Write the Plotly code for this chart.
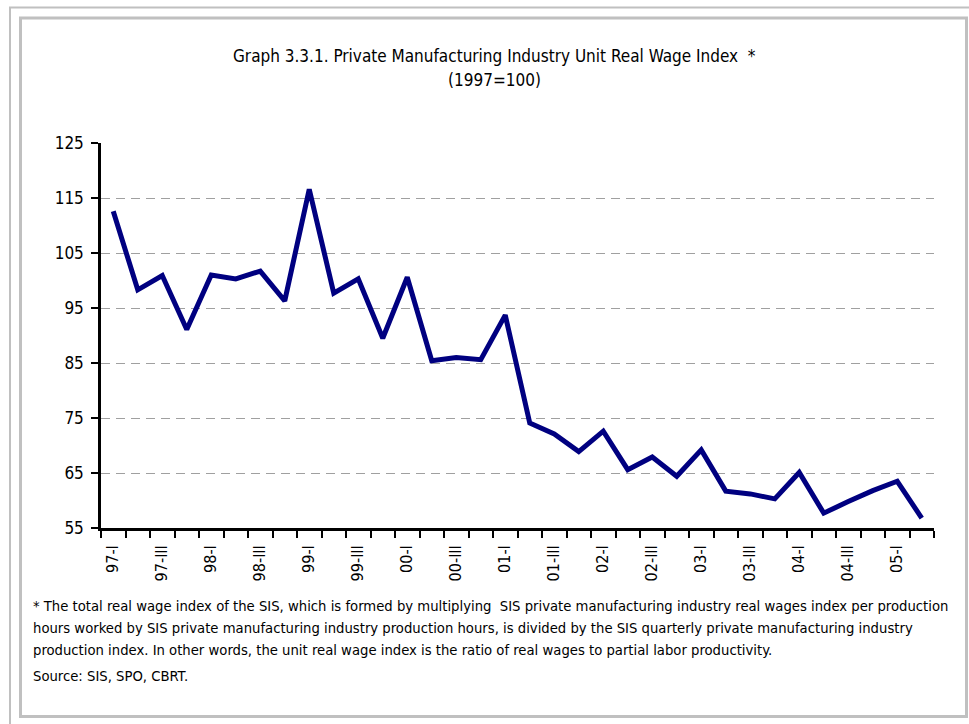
import plotly.graph_objects as go

# Quarterly observations, 1997-I to 2005-II
quarters = [
    "97-I", "97-II", "97-III", "97-IV",
    "98-I", "98-II", "98-III", "98-IV",
    "99-I", "99-II", "99-III", "99-IV",
    "00-I", "00-II", "00-III", "00-IV",
    "01-I", "01-II", "01-III", "01-IV",
    "02-I", "02-II", "02-III", "02-IV",
    "03-I", "03-II", "03-III", "03-IV",
    "04-I", "04-II", "04-III", "04-IV",
    "05-I", "05-II",
]
unit_real_wage = [
    112.6, 98.3, 100.9, 91.1,
    101.0, 100.3, 101.7, 96.3,
    116.6, 97.7, 100.3, 89.5,
    100.6, 85.4, 86.0, 85.6,
    93.7, 74.1, 72.1, 68.9,
    72.6, 65.6, 67.9, 64.4,
    69.2, 61.7, 61.2, 60.3,
    65.1, 57.7, 59.8, 61.8,
    63.5, 56.8,
]
y_ticks = [55, 65, 75, 85, 95, 105, 115, 125]

title_line1 = "Graph 3.3.1. Private Manufacturing Industry Unit Real Wage Index  *"
title_line2 = "(1997=100)"
footnote_lines = [
    "* The total real wage index of the SIS, which is formed by multiplying  SIS private manufacturing industry real wages index per production",
    "hours worked by SIS private manufacturing industry production hours, is divided by the SIS quarterly private manufacturing industry",
    "production index. In other words, the unit real wage index is the ratio of real wages to partial labor productivity.",
]
source_text = "Source: SIS, SPO, CBRT."

FONT = "Liberation Sans Narrow, Arial Narrow, DejaVu Sans Condensed, sans-serif"
W, H = 969, 724
L, R, T, B = 101, 35, 143, 196
PW, PH = W - L - R, H - T - B


def px(x):
    return (x - L) / PW


def py(y):
    return (H - B - y) / PH


idx = list(range(len(quarters)))
label_idx = idx[::2]

fig = go.Figure()
fig.add_trace(go.Scatter(
    x=idx, y=unit_real_wage, mode="lines",
    line=dict(color="#000080", width=5),
    hoverinfo="skip", showlegend=False,
))

fig.update_layout(
    width=W, height=H,
    margin=dict(l=L, r=R, t=T, b=B, pad=0),
    paper_bgcolor="white", plot_bgcolor="white",
    font=dict(family=FONT, color="black", size=16),
    xaxis=dict(
        range=[-0.5, len(quarters) - 0.5],
        tickmode="array",
        tickvals=label_idx,
        ticktext=[quarters[i] for i in label_idx],
        tickangle=-90,
        ticks="", showgrid=False, zeroline=False,
        showline=True, linecolor="black", linewidth=2.5,
        tickfont=dict(size=16),
        ticklabelstandoff=8,
        minor=dict(tickmode="linear", tick0=-0.5, dtick=1,
                   ticks="outside", ticklen=7, tickwidth=2,
                   tickcolor="black", showgrid=False),
    ),
    yaxis=dict(
        range=[55, 125],
        tickmode="array", tickvals=y_ticks,
        ticks="outside", ticklen=7, tickwidth=2, tickcolor="black",
        showline=True, linecolor="black", linewidth=2.5,
        showgrid=True, gridcolor="#a0a0a0", gridwidth=1.3,
        griddash="9px,6px",
        zeroline=False,
        tickfont=dict(size=17),
        ticklabelstandoff=4,
    ),
)

frame_col = "#c0c0c0"
fig.add_shape(type="line", xref="paper", yref="paper",
              x0=px(9), x1=px(969), y0=py(7.5), y1=py(7.5),
              line=dict(color=frame_col, width=2), layer="below")
fig.add_shape(type="line", xref="paper", yref="paper",
              x0=px(10), x1=px(10), y0=py(7), y1=py(724),
              line=dict(color=frame_col, width=2), layer="below")
fig.add_shape(type="rect", xref="paper", yref="paper",
              x0=px(20.5), x1=px(966.5), y0=py(18), y1=py(716.5),
              line=dict(color=frame_col, width=3), layer="below")

fig.add_annotation(text=title_line1, xref="paper", yref="paper",
                   x=px(494), y=py(56), showarrow=False,
                   xanchor="center", yanchor="middle",
                   font=dict(size=17, family=FONT))
fig.add_annotation(text=title_line2, xref="paper", yref="paper",
                   x=px(494), y=py(80), showarrow=False,
                   xanchor="center", yanchor="middle",
                   font=dict(size=17, family=FONT))

for i, line in enumerate(footnote_lines):
    fig.add_annotation(text=line, xref="paper", yref="paper",
                       x=px(31), y=py(605 + 22 * i), showarrow=False,
                       xanchor="left", yanchor="middle",
                       font=dict(size=14.7, family=FONT))
fig.add_annotation(text=source_text, xref="paper", yref="paper",
                   x=px(31), y=py(675), showarrow=False,
                   xanchor="left", yanchor="middle",
                   font=dict(size=14.7, family=FONT))

fig.write_html("out.html")
